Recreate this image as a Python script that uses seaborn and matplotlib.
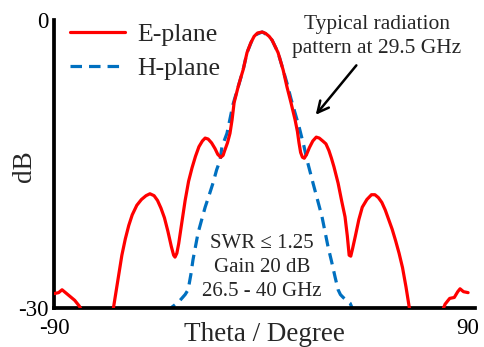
import matplotlib
matplotlib.use("Agg")
import matplotlib.pyplot as plt
import seaborn as sns

# E-plane pattern (theta in degrees, level in dB), values below -30 get clipped
e_theta = [-90, -88, -86.5, -85, -83, -81, -79, -77.5, -71, -64.5, -62.5,
           -60.5, -59, -57.5, -56, -54, -52, -50, -48.3, -46.5, -45, -43.5,
           -42, -40.5, -39, -38, -37.4, -36.6, -35.8, -34.5, -33, -31.5, -30,
           -28.5, -27, -25.5, -24.3, -23, -21.5, -20, -18.8, -17.5, -16.5,
           -15.8, -14.6, -13.5, -12.6, -11.7, -10, -8.8, -7.8, -6.1, -4.5, -3,
           -1.5, 0.5, 2, 3.5, 4.8, 6, 7.4, 9.6, 11.3, 13, 14.8, 15.8, 16.5,
           17.2, 18, 18.8, 19.8, 21, 22.5, 24, 25.3, 26.8, 28.2, 29.5, 30.6,
           31.7, 33.5, 35, 36.5, 37.5, 38.3, 39, 39.8, 41, 42.5, 44, 46, 48,
           49.5, 51, 52.5, 54, 55.5, 57, 58.5, 60, 61.5, 63, 64.8, 72, 78.5, 80,
           82, 84, 85.5, 86.5, 88, 90]
e_db = [-28.5, -28.4, -28.1, -28.4, -28.8, -29.2, -29.8, -30.5, -34, -30.5,
        -27.5, -24.5, -22.8, -21.4, -20.3, -19.3, -18.7, -18.3, -18.1, -18.3,
        -18.8, -19.6, -20.6, -22, -23.6, -24.5, -24.7, -24.3, -23.3, -21.2,
        -18.8, -16.8, -15.4, -14.2, -13.2, -12.6, -12.3, -12.4, -12.8, -13.4,
        -14.0, -14.3, -14.1, -13.6, -12.8, -11.8, -10.4, -8.6, -7.0, -6.0,
        -5.2, -3.4, -2.4, -1.7, -1.35, -1.25, -1.4, -1.7, -2.1, -2.7, -3.4,
        -5.2, -7.0, -8.6, -10.4, -11.6, -12.8, -13.8, -14.3, -14.4, -14.0,
        -13.3, -12.6, -12.2, -12.3, -12.6, -12.9, -13.6, -14.4, -15.3, -17,
        -18.8, -20.5, -22.5, -24.5, -24.6, -23.8, -22.5, -20.8, -19.5, -18.7,
        -18.2, -18.2, -18.5, -19, -19.8, -20.8, -21.8, -23, -24.3, -25.8,
        -27.8, -30.5, -34, -30.5, -29.6, -29, -28.9, -28.3, -28.0, -28.3,
        -28.4]

# H-plane pattern
h_theta = [-41, -38.7, -36.5, -35.2, -33, -31.7, -30.5, -29.6, -28.5, -27.4,
           -25.8, -24.3, -22.5, -20.9, -19.3, -17.8, -17, -14.8, -12.2, -10,
           -7.8, -6.1, -3.9, -2, 0.5, 1.7, 4.8, 7.4, 9.6, 11.3, 13, 14.8,
           16.5, 18.7, 20, 21.3, 22.6, 24.5, 26.5, 29.1, 30.7, 32.2, 33.5, 34.5,
           35.7, 37.2, 38.7, 40.5]
h_db = [-30.5, -29.9, -29.5, -29.2, -28.6, -28.1, -26.5, -25, -23.6, -22.2,
        -20.8, -19.5, -18.2, -17, -15.6, -14.6, -13.2, -11.8, -8.8, -7.0,
        -5.2, -3.4, -2.1, -1.5, -1.25, -1.4, -2.1, -3.4, -5.2, -6.6, -8.2,
        -9.7, -11.1, -13.2, -14.6, -15.8, -17, -18.7, -20.5, -23.6, -25.2,
        -26.8, -28.1, -28.6, -28.9, -29.2, -29.5, -30.5]

x_ticks = [-90, 90]
y_ticks = [-30, 0]

red = "#ff0000"
blue = "#0070c0"
serif = ["Liberation Serif", "DejaVu Serif"]

sns.set_style("white")
plt.rcParams["font.family"] = serif

fig = plt.figure(figsize=(4.85, 3.47), dpi=100)
ax = fig.add_axes([54 / 485, 1 - 308 / 347, 421 / 485, 288 / 347])

sns.lineplot(x=e_theta, y=e_db, ax=ax, color=red, linewidth=2.3,
             label="E-plane", sort=False, estimator=None, zorder=3,
             solid_joinstyle="round", solid_capstyle="round")
sns.lineplot(x=h_theta, y=h_db, ax=ax, color=blue, linewidth=2.3,
             label="H-plane", sort=False, estimator=None, zorder=2,
             linestyle=(0, (3.6, 2.2)))

ax.set_xlim(-90, 93)
ax.set_ylim(-30, 0)
ax.set_xticks(x_ticks)
ax.set_xticklabels([str(v) for v in x_ticks])
ax.set_yticks(y_ticks)
ax.set_yticklabels([str(v) for v in y_ticks])
ax.tick_params(length=0, labelsize=16.5, colors="black")
ax.tick_params(axis="x", pad=7)
ax.tick_params(axis="y", pad=4)

for side in ["top", "right"]:
    ax.spines[side].set_visible(False)
for side in ["left", "bottom"]:
    ax.spines[side].set_linewidth(2.7)
    ax.spines[side].set_color("black")

ax.set_xlabel("Theta / Degree", fontsize=19.5)
ax.xaxis.set_label_coords(0.5, -0.05)
ax.set_ylabel("dB", fontsize=19.5)
ax.yaxis.set_label_coords(-0.04, 0.493)

ax.legend(loc="upper left", bbox_to_anchor=(0.037, 0.99), frameon=False,
          fontsize=18.5, handlelength=2.15, handletextpad=0.5,
          labelspacing=0.42, borderpad=0, borderaxespad=0)

# annotations
ax.text(50.4, -1.7, "Typical radiation\npattern at 29.5 GHz", ha="center",
        va="center", fontsize=15.5, linespacing=1.4, clip_on=False)
ax.annotate("", xy=(23.0, -10.1), xytext=(42.2, -4.5),
            arrowprops=dict(arrowstyle="->", color="black", lw=1.8,
                            mutation_scale=20))
ax.text(0.4, -25.8, "SWR \u2264 1.25\nGain 20 dB\n26.5 - 40 GHz",
        ha="center", va="center", fontsize=15, linespacing=1.35)

fig.savefig("out.png", dpi=100)
